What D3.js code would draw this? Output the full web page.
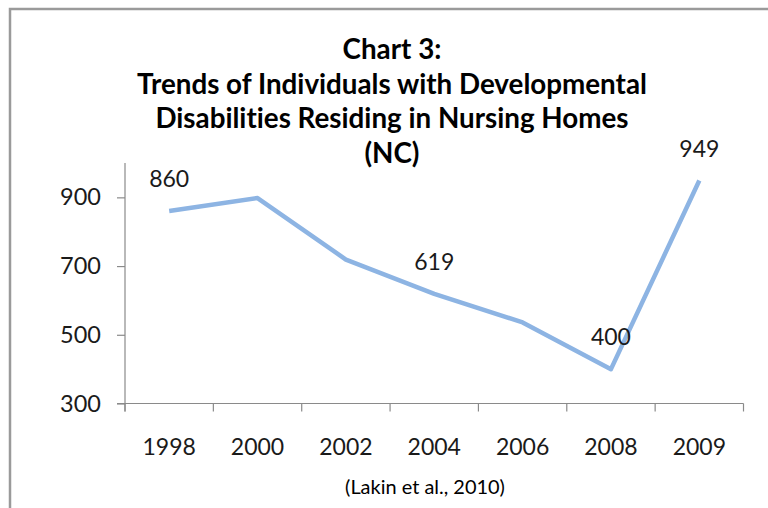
<!DOCTYPE html>
<html>
<head>
<meta charset="utf-8">
<script src="https://cdn.jsdelivr.net/npm/d3@7"></script>
<style>
  html, body { margin: 0; padding: 0; background: #fff; }
  svg { display: block; }
  text { font-variant-ligatures: none; font-feature-settings: "liga" 0, "clig" 0; }
</style>
</head>
<body>
<script>
const categories = ["1998", "2000", "2002", "2004", "2006", "2008", "2009"];
const values = [860, 898, 719, 619, 536, 400, 949];
const labelledYears = ["1998", "2004", "2008", "2009"];
const yTicks = [300, 500, 700, 900];
const titleLines = ["Chart 3:", "Trends of Individuals with Developmental", "Disabilities Residing in Nursing Homes", "(NC)"];
const caption = "(Lakin et al., 2010)";

const W = 768, H = 508;
const font = "Lato, 'Open Sans', sans-serif";
const axisColor = "#8a8a8a";
const textColor = "#1a1a1a";

const svg = d3.select("body").append("svg").attr("width", W).attr("height", H);
svg.append("rect").attr("width", W).attr("height", H).attr("fill", "#fff");

// frame
svg.append("rect").attr("x", 10).attr("y", 9).attr("width", W + 20).attr("height", H + 20)
  .attr("fill", "none").attr("stroke", "#9a9a9a").attr("stroke-width", 2.5);

const x = d3.scaleBand().domain(categories).range([125, 743.5]);
const y = d3.scaleLinear().domain([300, 1000]).range([403.5, 163]);

// title
const tl = svg.append("g").selectAll("text").data(titleLines).join("text")
  .attr("x", 392).attr("y", (d, i) => 59 + i * 34.7)
  .attr("text-anchor", "middle").attr("font-family", font).attr("font-weight", "bold")
  .attr("font-size", 24).attr("fill", "#000").text(d => d);
const w2 = tl.nodes()[1].getComputedTextLength();
tl.attr("font-size", 24 * 510 / w2);

// y axis
const yAxis = d3.axisLeft(y).tickValues(yTicks).tickSize(8).tickPadding(16).tickFormat(d3.format("d"));
const gy = svg.append("g").attr("transform", "translate(125,0)").call(yAxis);
gy.select(".domain").remove();
gy.append("line").attr("x1", 0).attr("x2", 0).attr("y1", 163).attr("y2", 411.5)
  .attr("stroke", axisColor).attr("stroke-width", 1.2);
gy.selectAll(".tick line").attr("stroke", axisColor).attr("stroke-width", 1.2);
gy.selectAll(".tick text").attr("font-family", font).attr("font-size", 23.5).attr("fill", textColor);

// x axis
const xAxis = d3.axisBottom(x).tickSize(0).tickPadding(35);
const gx = svg.append("g").attr("transform", `translate(0,${y(300)})`).call(xAxis);
gx.select(".domain").remove();
gx.append("line").attr("x1", 117).attr("x2", 743.5).attr("y1", 0).attr("y2", 0)
  .attr("stroke", axisColor).attr("stroke-width", 1.2);
const bounds = categories.map(c => x(c)).concat([x(categories[categories.length - 1]) + x.bandwidth()]);
gx.selectAll(".bound").data(bounds).join("line").attr("class", "bound")
  .attr("x1", d => d).attr("x2", d => d).attr("y1", 0).attr("y2", 8)
  .attr("stroke", axisColor).attr("stroke-width", 1.2);
gx.selectAll(".tick text").attr("font-family", font).attr("font-size", 23).attr("fill", textColor);

// line
const data = categories.map((c, i) => ({ c, v: values[i] }));
const line = d3.line().x(d => x(d.c) + x.bandwidth() / 2).y(d => y(d.v));
svg.append("path").datum(data).attr("d", line).attr("fill", "none")
  .attr("stroke", "#8db4e3").attr("stroke-width", 4.5).attr("stroke-linejoin", "round");

// data labels
svg.selectAll(".dl").data(data.filter(d => labelledYears.includes(d.c))).join("text").attr("class", "dl")
  .attr("x", d => x(d.c) + x.bandwidth() / 2).attr("y", d => y(d.v) - 24)
  .attr("text-anchor", "middle").attr("font-family", font).attr("font-size", 23).attr("fill", textColor)
  .text(d => d.v);

// caption
const cap = svg.append("text").attr("x", 425).attr("y", 494).attr("text-anchor", "middle")
  .attr("font-family", font).attr("font-size", 16).attr("fill", "#000").text(caption);
const cw = cap.node().getComputedTextLength();
cap.attr("font-size", 16 * 160 / cw);
</script>
</body>
</html>
